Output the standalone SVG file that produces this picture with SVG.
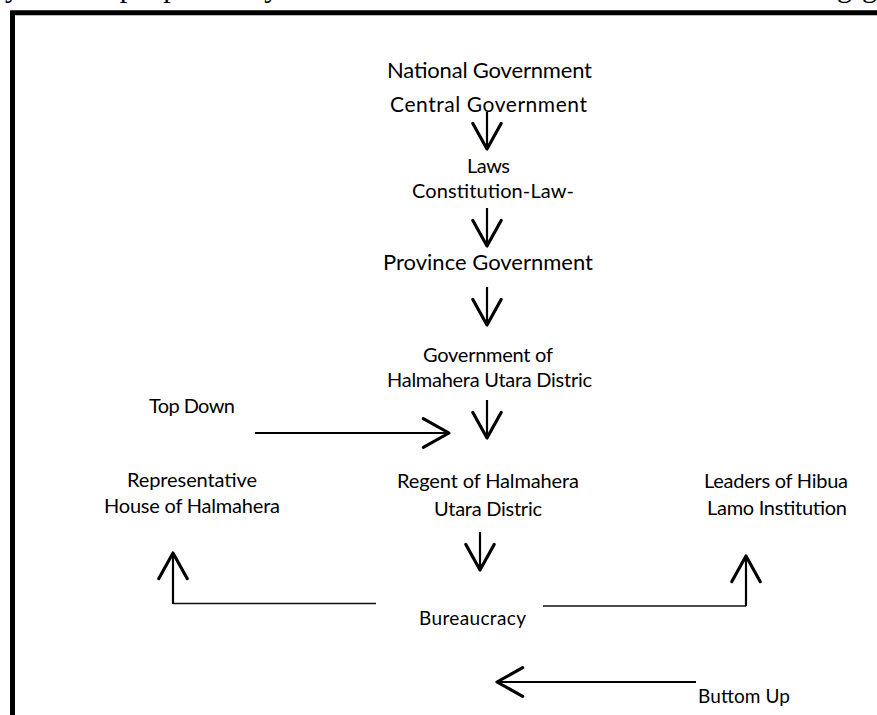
<svg xmlns="http://www.w3.org/2000/svg" width="877" height="715" viewBox="0 0 877 715">
<style>
.t{font-family:Lato,"Open Sans","Liberation Sans",sans-serif;fill:#000;text-anchor:middle}
.ln{stroke:#000;fill:none;stroke-width:2.2}
.thin{stroke:#111;fill:none;stroke-width:1.5}
</style>
<defs>
<marker id="ah" markerUnits="userSpaceOnUse" markerWidth="40" markerHeight="40" viewBox="-22 -14 26 28" refX="0" refY="0" orient="auto" overflow="visible">
<path d="M-18,-10 L0,0 L-18,10" fill="none" stroke="#000" stroke-width="2.2" stroke-linejoin="round" stroke-linecap="round"/>
</marker>
</defs>
<rect width="877" height="715" fill="#fff"/>
<text x="5" y="-3" font-family="'Liberation Serif',serif" font-size="30" textLength="872" fill="#000">y model proposed by Horowitz is then followed in the following g</text>
<path d="M12.5,715 V12.8 H877" fill="none" stroke="#000" stroke-width="5"/>

<g id="national"><text class="t" x="489.5" y="78" font-size="22" textLength="205">National Government</text></g>
<g id="central"><text class="t" x="488.5" y="112" font-size="21" textLength="197">Central Government</text></g>
<g id="laws"><text class="t" x="488.5" y="173" font-size="20" textLength="43">Laws</text>
<text class="t" x="493" y="198" font-size="20" textLength="162">Constitution-Law-</text></g>
<g id="province"><text class="t" x="488" y="270" font-size="22" textLength="210">Province Government</text></g>
<g id="district-gov"><text class="t" x="488" y="362" font-size="20" textLength="130">Government of</text>
<text class="t" x="489.5" y="387" font-size="20" textLength="205">Halmahera Utara Distric</text></g>
<g id="topdown"><text class="t" x="192" y="413" font-size="20" textLength="86">Top Down</text></g>
<g id="representative"><text class="t" x="192" y="487" font-size="20" textLength="130">Representative</text>
<text class="t" x="192" y="513" font-size="20" textLength="176">House of Halmahera</text></g>
<g id="regent"><text class="t" x="488" y="488" font-size="20" textLength="182">Regent of Halmahera</text>
<text class="t" x="488" y="516" font-size="20" textLength="108">Utara Distric</text></g>
<g id="leaders"><text class="t" x="776" y="488" font-size="20" textLength="144">Leaders of Hibua</text>
<text class="t" x="777" y="515" font-size="20" textLength="140">Lamo Institution</text></g>
<g id="bureaucracy"><text class="t" x="472.5" y="625" font-size="19" textLength="107">Bureaucracy</text></g>
<g id="bottomup"><text class="t" x="744" y="703" font-size="19" textLength="92">Buttom Up</text></g>

<g id="connectors">
<line class="ln" x1="487" y1="112" x2="487" y2="149" marker-end="url(#ah)"/>
<line class="ln" x1="487" y1="208" x2="487" y2="246" marker-end="url(#ah)"/>
<line class="ln" x1="487" y1="287" x2="487" y2="325" marker-end="url(#ah)"/>
<line class="ln" x1="487" y1="400" x2="487" y2="438" marker-end="url(#ah)"/>
<line class="ln" x1="480" y1="532" x2="480" y2="570" marker-end="url(#ah)"/>
<line class="ln" x1="255" y1="433" x2="449" y2="433" marker-end="url(#ah)"/>
<line class="thin" x1="376" y1="603.5" x2="173" y2="603.5"/>
<line class="ln" x1="173" y1="604" x2="173" y2="553" marker-end="url(#ah)"/>
<line class="thin" x1="543" y1="606" x2="746" y2="606"/>
<line class="ln" x1="746" y1="606" x2="746" y2="556" marker-end="url(#ah)"/>
<line class="ln" x1="696" y1="682" x2="497" y2="682" marker-end="url(#ah)"/>
</g>
</svg>
